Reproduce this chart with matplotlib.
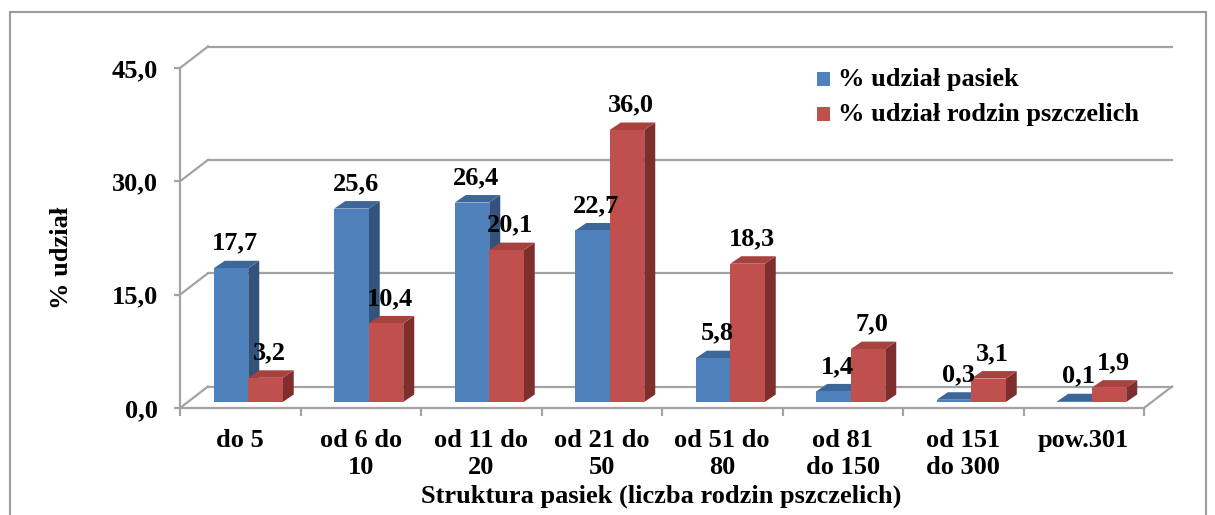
import matplotlib
matplotlib.use("Agg")
import matplotlib.pyplot as plt
from matplotlib.patches import Polygon, Rectangle
from matplotlib.ticker import FuncFormatter

categories = ["do 5", "od 6 do\n10", "od 11 do\n20", "od 21 do\n50", "od 51 do\n80",
              "od 81\ndo 150", "od 151\ndo 300", "pow.301"]
pasiek = [17.7, 25.6, 26.4, 22.7, 5.8, 1.4, 0.3, 0.1]
rodzin = [3.2, 10.4, 20.1, 36.0, 18.3, 7.0, 3.1, 1.9]
series_names = ["% udział pasiek", "% udział rodzin pszczelich"]
y_ticks = [0, 15, 30, 45]

plt.rcParams['font.family'] = ['Liberation Serif', 'DejaVu Serif']
plt.rcParams['font.weight'] = 'bold'
FS = 19
GRID = "#A3A3A3"

# colours: front, top, side
blue = ("#4F81BD", "#3D6699", "#33527C")
red = ("#C0504D", "#A8423F", "#7E2E2C")

W, H = 1215, 515
fig = plt.figure(figsize=(W / 100, H / 100), dpi=100)
ax = fig.add_axes([180 / W, 1 - 408 / H, (1144 - 180) / W, (408 - 68) / H])
n = len(categories)
ax.set_xlim(0, n)
ax.set_ylim(0, 45)

# data units per pixel
sx = n / (1144 - 180)
sy = 45 / (408 - 68)
wx, wy = 28 * sx, 21.5 * sy      # back wall depth
bx, by = 8 * sx, 6 * sy          # bar position inside depth
dx, dy = 11 * sx, 7.5 * sy       # bar depth
bw = 34.5 * sx                   # bar width

# back wall grid + diagonals
for v in y_ticks:
    ax.plot([wx, n + wx], [v + wy, v + wy], color=GRID, lw=1.6, clip_on=False, zorder=1)
    ax.plot([0, wx], [v, v + wy], color=GRID, lw=1.6, clip_on=False, zorder=1)
ax.plot([n, n + wx], [0, wy], color=GRID, lw=1.6, clip_on=False, zorder=1)


def box(x0, h, cols):
    x = x0 + bx
    front = Rectangle((x, by), bw, h, fc=cols[0], ec="none", zorder=3, clip_on=False)
    top = Polygon([(x, by + h), (x + bw, by + h), (x + bw + dx, by + h + dy), (x + dx, by + h + dy)],
                  closed=True, fc=cols[1], ec="none", zorder=3, clip_on=False)
    side = Polygon([(x + bw, by), (x + bw + dx, by + dy), (x + bw + dx, by + h + dy), (x + bw, by + h)],
                   closed=True, fc=cols[2], ec="none", zorder=3, clip_on=False)
    for p in (side, top, front):
        ax.add_patch(p)


def fmt(v):
    return f"{v:.1f}".replace(".", ",")


for i in range(n):
    xb = i + 0.5 - bw
    xr = i + 0.5
    box(xb, pasiek[i], blue)
    box(xr, rodzin[i], red)
    for x0, v in ((xb, pasiek[i]), (xr, rodzin[i])):
        ax.text(x0 + bx + bw / 2 + 4 * sx, v + by + dy + 11 * sy, fmt(v), ha="center", va="baseline",
                fontsize=FS, fontweight="bold", zorder=5)

# axes styling
for s in ("top", "right"):
    ax.spines[s].set_visible(False)
for s in ("left", "bottom"):
    ax.spines[s].set_color(GRID)
    ax.spines[s].set_linewidth(1.6)
ax.set_facecolor("none")
ax.set_yticks(y_ticks)
ax.yaxis.set_major_formatter(FuncFormatter(lambda v, p: fmt(v)))
ax.tick_params(axis="y", length=4, width=1.6, color=GRID, pad=12, labelsize=FS)
ax.set_xticks(range(n + 1))
ax.set_xticklabels([])
ax.tick_params(axis="x", which="major", length=6, width=1.6, color=GRID)
ax.set_xticks([i + 0.5 for i in range(n)], minor=True)
ax.set_xticklabels(categories, minor=True, fontsize=FS, linespacing=1.25)
ax.tick_params(axis="x", which="minor", length=0, pad=15)

ax.set_ylabel("% udział", fontsize=FS, fontweight="bold", labelpad=0)
ax.yaxis.set_label_coords(73 / W, 1 - 258 / H, transform=fig.transFigure)
fig.text(661 / W, 1 - 503 / H, "Struktura pasiek (liczba rodzin pszczelich)", ha="center", va="baseline",
         fontsize=FS, fontweight="bold")

# legend
for k, (name, cols) in enumerate(zip(series_names, (blue, red))):
    yc = 1 - (79 + 35 * k) / H
    fig.add_artist(Rectangle((817 / W, yc - 7 / H), 13 / W, 14 / H, fc=cols[0], ec="none",
                             transform=fig.transFigure))
    fig.text(838 / W, yc, name, ha="left", va="center", fontsize=FS, fontweight="bold")

# outer frame
fig.add_artist(Rectangle((10 / W, -0.05), (1206 - 10) / W, 1.05 - 12 / H, fill=False, ec="#9C9C9C",
                         lw=1.5, transform=fig.transFigure))

fig.savefig("out.png", dpi=100)
